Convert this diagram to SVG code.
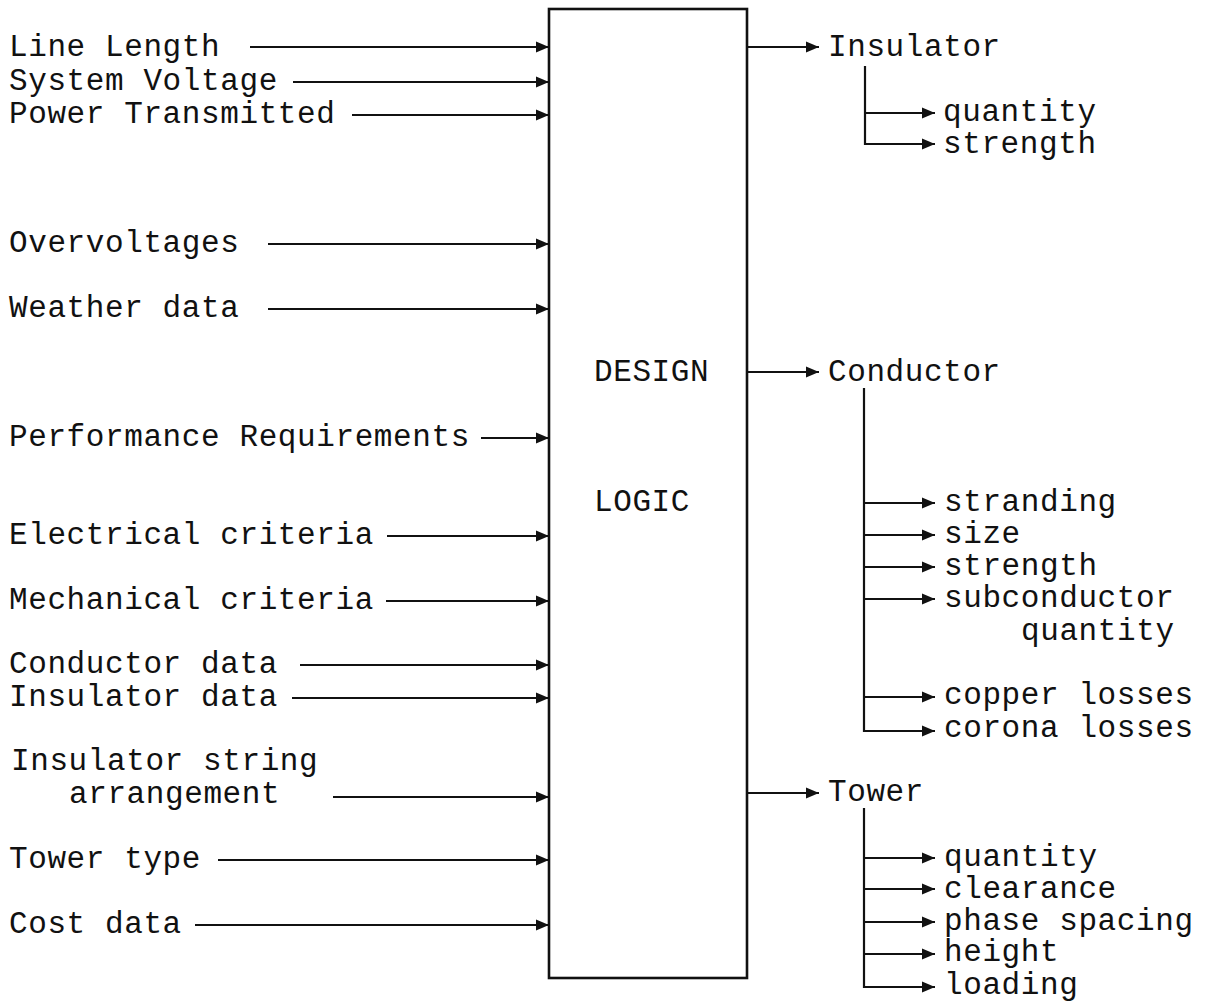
<svg xmlns="http://www.w3.org/2000/svg" width="1209" height="1002" viewBox="0 0 1209 1002">
<style>
text{font-family:"Liberation Mono","Courier New",monospace;font-size:31px;letter-spacing:0.6px;fill:#111}
.c line{stroke:#111;stroke-width:2.2;fill:none}
.c line.a{marker-end:url(#ah)}
.box{fill:none;stroke:#111;stroke-width:2.6}
</style>
<defs>
<marker id="ah" markerUnits="userSpaceOnUse" markerWidth="14" markerHeight="12" refX="13" refY="6" orient="auto">
<path d="M0,0.5 L13,6 L0,11.5 Z" fill="#111"/>
</marker>
</defs>
<rect width="1209" height="1002" fill="#fff"/>
<g id="logic">
<rect class="box" x="549" y="9" width="198" height="969"/>
<text x="594" y="381">DESIGN</text>
<text x="594" y="511">LOGIC</text>
</g>
<g id="inputs">
<text x="9" y="56">Line Length</text>
<text x="9" y="90">System Voltage</text>
<text x="9" y="123">Power Transmitted</text>
<text x="9" y="252">Overvoltages</text>
<text x="9" y="317">Weather data</text>
<text x="9" y="446">Performance Requirements</text>
<text x="9" y="544">Electrical criteria</text>
<text x="9" y="609">Mechanical criteria</text>
<text x="9" y="673">Conductor data</text>
<text x="9" y="706">Insulator data</text>
<text x="11" y="770">Insulator string</text>
<text x="69" y="803">arrangement</text>
<text x="9" y="868">Tower type</text>
<text x="9" y="933">Cost data</text>
</g>
<g id="insulator">
<text x="828" y="56">Insulator</text>
<text x="943" y="121">quantity</text>
<text x="943" y="153">strength</text>
</g>
<g id="conductor">
<text x="828" y="381">Conductor</text>
<text x="944" y="511">stranding</text>
<text x="944" y="543">size</text>
<text x="944" y="575">strength</text>
<text x="944" y="607">subconductor</text>
<text x="1021" y="640">quantity</text>
<text x="944" y="704">copper losses</text>
<text x="944" y="737">corona losses</text>
</g>
<g id="tower">
<text x="828" y="801">Tower</text>
<text x="944" y="866">quantity</text>
<text x="944" y="898">clearance</text>
<text x="944" y="930">phase spacing</text>
<text x="944" y="961">height</text>
<text x="944" y="994">loading</text>
</g>
<g class="c" id="connectors">
<line class="a" x1="250" y1="47" x2="549" y2="47"/>
<line class="a" x1="293" y1="82" x2="549" y2="82"/>
<line class="a" x1="352" y1="115" x2="549" y2="115"/>
<line class="a" x1="268" y1="244" x2="549" y2="244"/>
<line class="a" x1="268" y1="309" x2="549" y2="309"/>
<line class="a" x1="481" y1="438" x2="549" y2="438"/>
<line class="a" x1="387" y1="536" x2="549" y2="536"/>
<line class="a" x1="386" y1="601" x2="549" y2="601"/>
<line class="a" x1="300" y1="665" x2="549" y2="665"/>
<line class="a" x1="292" y1="698" x2="549" y2="698"/>
<line class="a" x1="333" y1="797" x2="549" y2="797"/>
<line class="a" x1="218" y1="860" x2="549" y2="860"/>
<line class="a" x1="195" y1="925" x2="549" y2="925"/>
<line class="a" x1="747" y1="47" x2="819" y2="47"/>
<line class="a" x1="747" y1="372" x2="819" y2="372"/>
<line class="a" x1="747" y1="793" x2="819" y2="793"/>
<line x1="865" y1="66" x2="865" y2="145"/>
<line class="a" x1="864" y1="113" x2="935" y2="113"/>
<line class="a" x1="864" y1="144" x2="935" y2="144"/>
<line x1="864" y1="388" x2="864" y2="732"/>
<line class="a" x1="863" y1="503" x2="935" y2="503"/>
<line class="a" x1="863" y1="535" x2="935" y2="535"/>
<line class="a" x1="863" y1="567" x2="935" y2="567"/>
<line class="a" x1="863" y1="599" x2="935" y2="599"/>
<line class="a" x1="863" y1="697" x2="935" y2="697"/>
<line class="a" x1="863" y1="731" x2="935" y2="731"/>
<line x1="864" y1="808" x2="864" y2="988"/>
<line class="a" x1="863" y1="858" x2="935" y2="858"/>
<line class="a" x1="863" y1="889" x2="935" y2="889"/>
<line class="a" x1="863" y1="922" x2="935" y2="922"/>
<line class="a" x1="863" y1="954" x2="935" y2="954"/>
<line class="a" x1="863" y1="987" x2="935" y2="987"/>
</g>
</svg>
